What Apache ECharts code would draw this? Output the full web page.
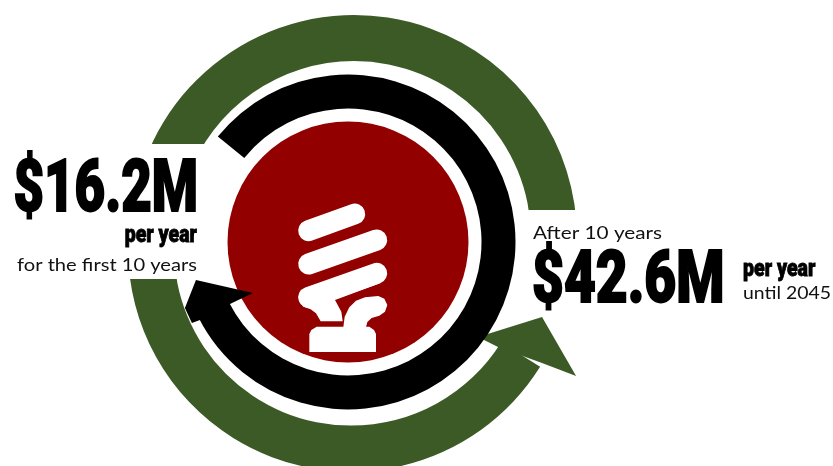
<!DOCTYPE html>
<html>
<head>
<meta charset="utf-8">
<style>html,body{margin:0;padding:0;background:#fff}#chart{width:833px;height:466px}</style>
<script src="https://cdn.jsdelivr.net/npm/echarts@6/dist/echarts.min.js"></script>
</head>
<body>
<div id="chart"></div>
<script>
// Savings figures and captions
const amounts = [16.2, 42.6];
const amountLabels = amounts.map(v => '$' + v.toFixed(1) + 'M');
const rateLabel = 'per year';
const earlyCaption = 'for the first 10 years';
const lateIntro = 'After 10 years';
const lateCaption = 'until 2045';

// Ring sweeps in degrees, counter-clockwise from east: [start, end]
const upperGreenSweep = [0, 160];
const lowerGreenSweep = [180, 328];
const blackSweep = [-153, 141];

// Arrowheads as polar outlines
const greenHeadRadius = [176.9, 154.7, 202.9, 258.6, 222.6];
const greenHeadAngle = [-33.8, -34.8, -19.7, -29.5, -30.9];
const blackHeadRadius = [131, 107.8, 156.7, 175.9, 175.8, 167.3];
const blackHeadAngle = [207.7, 208.2, 194, 202, 207.4, 207.8];

const GREEN = '#3c5a26', RED = '#930000', INK = '#000';
const GREEN_RING = [177, 223], BLACK_RING = [133.5, 167.5], DISC_RADIUS = 120.5;
const HEAVY = '900 73px Roboto';
const HEAVY_SMALL = '900 23px Roboto';
const LIGHT = '18px Lato';

function pxPerUnit(api, cx) { return api.coord([1, 0])[0] - cx; }

function ringSeries(polarIndex, sweep, ring, color, z) {
  return {
    type: 'custom', coordinateSystem: 'polar', polarIndex, silent: true, clip: false,
    z, encode: { radius: 0, angle: 1 }, data: [sweep],
    renderItem(params, api) {
      const cx = params.coordSys.cx, cy = params.coordSys.cy, k = pxPerUnit(api, cx);
      return {
        type: 'sector',
        shape: {
          cx, cy, r0: ring[0] * k, r: ring[1] * k,
          startAngle: -api.value(1) * Math.PI / 180,
          endAngle: -api.value(0) * Math.PI / 180,
          clockwise: true
        },
        style: { fill: color }
      };
    }
  };
}

function headSeries(polarIndex, radii, angles, color, z) {
  return {
    type: 'custom', coordinateSystem: 'polar', polarIndex, silent: true, clip: false,
    z, encode: { radius: 0, angle: 1 }, data: [[radii[0], angles[0]]],
    renderItem(params, api) {
      return {
        type: 'polygon',
        shape: { points: radii.map((r, i) => api.coord([r, angles[i]])) },
        style: { fill: color }
      };
    }
  };
}

// Compact fluorescent bulb, outlined on a small local grid
const B = (x, y) => [270 + x / 3, 190 + y / 3];
const coils = [[[116, 122], [254, 72]], [[116, 222], [320, 150]], [[116, 322], [320, 250]]];
const stem = [[88, 335], [100, 350], [122, 358], [138, 370], [152, 394], [218, 394], [214, 365], [195, 330], [330, 280], [250, 250], [100, 300]];
const neck = [[220, 412], [224, 380], [238, 352], [258, 332], [285, 322], [325, 318], [343, 326], [352, 345], [345, 365], [328, 377], [305, 384], [292, 396], [288, 412]];
const base = [[118, 486], [118, 432], [124, 420], [140, 410], [298, 410], [312, 420], [318, 432], [318, 486]];

const chart = echarts.init(document.getElementById('chart'), null, { renderer: 'canvas' });

// Horizontal scale that makes a string span the wanted width
const ruler = document.createElement('canvas').getContext('2d');
function fit(text, font, width, lw) {
  ruler.font = font;
  return width / (ruler.measureText(text).width + lw);
}
const heavyText = (text, x, y, align, font, width, lw) => ({
  type: 'text', x, y, scaleX: fit(text, font, width, lw), z: 100,
  style: { text, font, fill: INK, stroke: INK, lineWidth: lw, textAlign: align, textVerticalAlign: 'bottom' }
});
const lightText = (text, x, y, align, width) => ({
  type: 'text', x, y, scaleX: fit(text, LIGHT, width, 0), z: 100,
  style: { text, font: LIGHT, fill: '#111', textAlign: align, textVerticalAlign: 'bottom' }
});

chart.setOption({
  animation: false,
  backgroundColor: '#fff',
  polar: [
    { center: [354, 238], radius: 300 },
    { center: [351, 248.6], radius: 300 },
    { center: [348, 242], radius: 300 }
  ],
  radiusAxis: [0, 1, 2].map(polarIndex => ({ polarIndex, type: 'value', min: 0, max: 300, show: false })),
  angleAxis: [0, 1, 2].map(polarIndex => ({ polarIndex, type: 'value', min: 0, max: 360, startAngle: 0, clockwise: false, show: false })),
  series: [
    ringSeries(0, upperGreenSweep, GREEN_RING, GREEN, 2),
    ringSeries(1, lowerGreenSweep, GREEN_RING, GREEN, 3),
    headSeries(1, greenHeadRadius, greenHeadAngle, GREEN, 4),
    {
      // White panels behind the two text blocks trim the outer ring flat
      type: 'custom', coordinateSystem: 'polar', polarIndex: 0, silent: true, clip: false, z: 7,
      encode: { radius: 0, angle: 1 }, data: [[0, 0]],
      renderItem() {
        return {
          type: 'group',
          children: [
            { type: 'rect', shape: { x: 0, y: 144, width: 212, height: 135 }, style: { fill: '#fff' } },
            { type: 'rect', shape: { x: 518, y: 210, width: 315, height: 40 }, style: { fill: '#fff' } }
          ]
        };
      }
    },
    {
      type: 'custom', coordinateSystem: 'polar', polarIndex: 2, silent: true, clip: false, z: 8,
      encode: { radius: 0, angle: 1 }, data: [[DISC_RADIUS, 0]],
      renderItem(params, api) {
        const cx = params.coordSys.cx, cy = params.coordSys.cy, k = pxPerUnit(api, cx);
        return { type: 'circle', shape: { cx, cy, r: api.value(0) * k }, style: { fill: RED } };
      }
    },
    ringSeries(2, blackSweep, BLACK_RING, INK, 9),
    headSeries(2, blackHeadRadius, blackHeadAngle, INK, 10),
    {
      type: 'custom', coordinateSystem: 'polar', polarIndex: 2, silent: true, clip: false, z: 11,
      encode: { radius: 0, angle: 1 }, data: [[0, 0]],
      renderItem() {
        const children = coils.map(c => ({
          type: 'line',
          shape: { x1: B(...c[0])[0], y1: B(...c[0])[1], x2: B(...c[1])[0], y2: B(...c[1])[1] },
          style: { stroke: '#fff', lineWidth: 21, lineCap: 'round' }
        }));
        [stem, neck, base].forEach(p => children.push({
          type: 'polygon', shape: { points: p.map(q => B(q[0], q[1])) }, style: { fill: '#fff' }
        }));
        return { type: 'group', children };
      }
    }
  ],
  graphic: [
    heavyText(amountLabels[0], 198, 229, 'right', HEAVY, 186, 2),
    heavyText(rateLabel, 197, 248, 'right', HEAVY_SMALL, 73, 0.8),
    lightText(earlyCaption, 197, 274, 'right', 180),
    lightText(lateIntro, 533, 242, 'left', 129),
    heavyText(amountLabels[1], 532, 320, 'left', HEAVY, 194, 2),
    heavyText(rateLabel, 743, 282, 'left', HEAVY_SMALL, 73, 0.8),
    lightText(lateCaption, 743, 302, 'left', 88)
  ]
});
</script>
</body>
</html>
